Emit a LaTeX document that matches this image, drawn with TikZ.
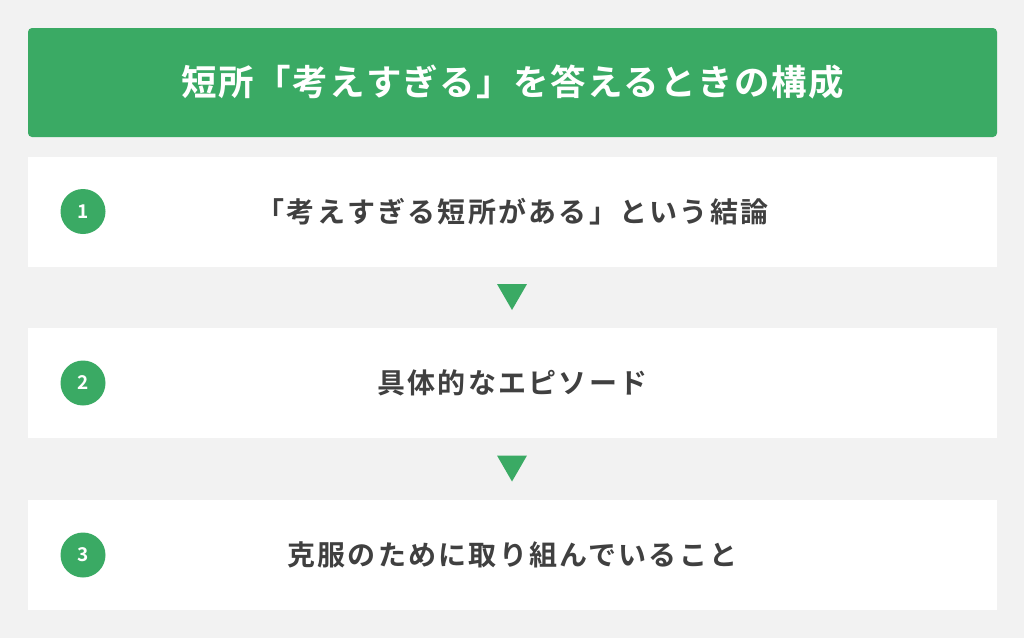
\documentclass[tikz,border=0pt]{standalone}
\usepackage{fontspec}
\usepackage{tikz}
\usetikzlibrary{shapes.geometric}

\newfontfamily\titlefont{Noto Sans CJK JP Bold}[LetterSpace=4]
\newfontfamily\rowfont{Noto Sans CJK JP Bold}[LetterSpace=8]
\newfontfamily\numfont{Noto Sans CJK JP Bold}

\definecolor{bggray}{HTML}{F2F2F2}
\definecolor{mygreen}{HTML}{3AAA64}
\definecolor{textgray}{HTML}{404040}

\begin{document}
\begin{tikzpicture}[x=1pt,y=-1pt,
    title_box/.style={rectangle,rounded corners=4pt,fill=mygreen,minimum width=969pt,minimum height=109pt,inner sep=0pt,text=white,font=\titlefont\fontsize{35.5}{40}\selectfont},
    row_box/.style={rectangle,fill=white,minimum width=969pt,minimum height=110pt,inner sep=0pt,text=textgray,font=\rowfont\fontsize{28}{32}\selectfont},
    num_node/.style={circle,fill=mygreen,minimum size=45pt,inner sep=0pt,text=white,font=\numfont\fontsize{19}{22}\selectfont},
    down_tri/.style={regular polygon,regular polygon sides=3,shape border rotate=180,fill=mygreen,minimum size=34.6pt,inner sep=0pt}]
    \fill[bggray] (0,0) rectangle (1024,638);
    \useasboundingbox (0,0) rectangle (1024,638);

    \node[title_box] (title) at (512.5,82.5) {短所「考えすぎる」を答えるときの構成};

    \node[row_box] (row1) at (512.5,211.5) {「考えすぎる短所がある」という結論};
    \node[row_box] (row2) at (512.5,383) {具体的なエピソード};
    \node[row_box] (row3) at (512.5,555) {克服のために取り組んでいること};

    \node[num_node] (num1) at (83,211.5) {1};
    \node[num_node] (num2) at (83,383) {2};
    \node[num_node] (num3) at (83,555) {3};

    \node[down_tri] (tri1) at (512,292.7) {};
    \node[down_tri] (tri2) at (512,464.2) {};
\end{tikzpicture}
\end{document}
